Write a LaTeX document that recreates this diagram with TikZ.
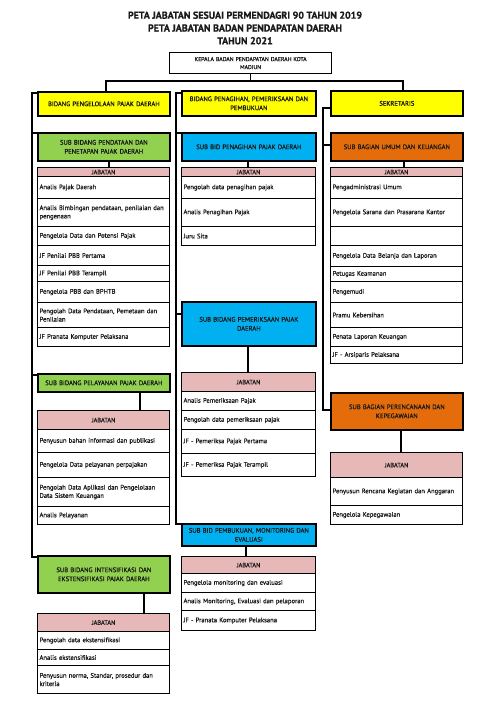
\documentclass[tikz,border=0pt]{standalone}
\usepackage{fontspec}
\setmainfont{PT Sans}[FakeBold=0.8]
\hyphenpenalty=10000
\exhyphenpenalty=10000
\definecolor{yel}{HTML}{FFFF00}
\definecolor{grn}{HTML}{92D050}
\definecolor{blu}{HTML}{00B0F0}
\definecolor{org}{HTML}{E46C0A}
\definecolor{pnk}{HTML}{E6B8B7}
\definecolor{ink}{HTML}{1A1A1A}
\tikzset{
  unitbox/.style={draw, line width=1.7pt, anchor=north west, align=center, inner sep=0pt, text=ink,
    font=\fontsize{6.6}{9}\selectfont},
  lbox/.style={unitbox, minimum width=132pt, text width=128pt},
  mbox/.style={unitbox, minimum width=134pt, text width=130pt},
  hdr/.style={draw, line width=1.1pt, fill=pnk, anchor=north west, inner sep=0pt, text=ink,
    font=\fontsize{6.3}{7}\selectfont},
  jrow/.style={draw, line width=1.1pt, fill=white, anchor=north west, align=left, inner xsep=2pt,
    inner ysep=0pt, text=ink, font=\fontsize{6.6}{8.3}\selectfont},
  lrow/.style={jrow, text width=128pt},
  mrow/.style={jrow, text width=130pt},
  bus/.style={line width=1.4pt},
}
\begin{document}
\begin{tikzpicture}[x=1pt,y=-1pt]
\fill[white] (0,0) rectangle (484,707);
\useasboundingbox (0,0) rectangle (484,707);

\node[font=\fontsize{10}{12.8}\selectfont\bfseries, align=center, text=ink] (title) at (245,28)
  {PETA JABATAN SESUAI PERMENDAGRI 90 TAHUN 2019\\PETA JABATAN BADAN PENDAPATAN DAERAH\\TAHUN 2021};

\node[unitbox, line width=1.2pt, minimum width=162pt, minimum height=21pt, text width=158pt,
  font=\fontsize{5.8}{8}\selectfont] (kep) at (169,52) {KEPALA BADAN PENDAPATAN DAERAH KOTA\\MADIUN};

% ---------- left column ----------
\node[lbox, fill=yel, minimum height=24pt] (b1) at (37,91) {BIDANG PENGELOLAAN PAJAK DAERAH};
\node[lbox, fill=grn, minimum height=28pt] (g1) at (37,132) {SUB BIDANG PENDATAAN DAN\\PENETAPAN PAJAK DAERAH};
\node[hdr, minimum width=132pt, minimum height=9pt] (h1) at (37,167) {JABATAN};
\node[lrow, minimum height=22pt] (l11) at (37,176) {Analis Pajak Daerah};
\node[lrow, minimum height=28pt] (l12) at (37,198) {Analis Bimbingan pendataan, penilaian dan pengenaan};
\node[lrow, minimum height=19pt] (l13) at (37,226) {Pengelola Data dan Potensi Pajak};
\node[lrow, minimum height=20pt] (l14) at (37,245) {JF Penilai PBB Pertama};
\node[lrow, minimum height=16pt] (l15) at (37,265) {JF Penilai PBB Terampil};
\node[lrow, minimum height=21pt] (l16) at (37,281) {Pengelola PBB dan BPHTB};
\node[lrow, minimum height=25pt] (l17) at (37,302) {Pengolah Data Pendataan, Pemetaan dan Penilaian};
\node[lrow, minimum height=19pt] (l18) at (37,327) {JF Pranata Komputer Pelaksana};

\node[lbox, fill=grn, minimum height=18pt] (g2) at (37,373) {SUB BIDANG PELAYANAN PAJAK DAERAH};
\node[hdr, minimum width=132pt, minimum height=19pt] (h2) at (37,410) {JABATAN};
\node[lrow, minimum height=23pt] (l21) at (37,429) {Penyusun bahan informasi dan publikasi};
\node[lrow, minimum height=25pt] (l22) at (37,452) {Pengelola Data pelayanan perpajakan};
\node[lrow, minimum height=29pt] (l23) at (37,477) {Pengolah Data Aplikasi dan Pengelolaan Data Sistem Keuangan};
\node[lrow, minimum height=18pt] (l24) at (37,506) {Analis Pelayanan};

\node[lbox, fill=grn, minimum height=37pt] (g3) at (37,555)
  {SUB BIDANG INTENSIFIKASI DAN\\EKSTENSIFIKASI PAJAK DAERAH};
\node[hdr, minimum width=132pt, minimum height=18pt] (h3) at (37,613) {JABATAN};
\node[lrow, minimum height=18pt] (l31) at (37,631) {Pengolah data ekstensifikasi};
\node[lrow, minimum height=16pt] (l32) at (37,649) {Analis ekstensifikasi};
\node[lrow, minimum height=28pt] (l33) at (37,665) {Penyusun norma, Standar, prosedur dan kriteria};

% ---------- middle column ----------
\node[mbox, fill=yel, minimum height=25pt] (b2) at (181,90) {BIDANG PENAGIHAN, PEMERIKSAAN DAN\\PEMBUKUAN};
\node[mbox, fill=blu, minimum height=28pt] (u1) at (181,132) {SUB BID PENAGIHAN PAJAK DAERAH};
\node[hdr, minimum width=134pt, minimum height=9pt] (h4) at (181,167) {JABATAN};
\node[mrow, minimum height=22pt] (m11) at (181,176) {Pengolah data penagihan pajak};
\node[mrow, minimum height=28pt] (m12) at (181,198) {Analis Penagihan Pajak};
\node[mrow, minimum height=19pt] (m13) at (181,226) {Juru Sita};

\node[mbox, fill=blu, minimum height=44pt] (u2) at (181,301) {SUB BIDANG PEMERIKSAAN PAJAK\\DAERAH};
\node[hdr, minimum width=134pt, minimum height=19pt] (h5) at (181,372) {JABATAN};
\node[mrow, minimum height=19pt] (m21) at (181,391) {Analis Pemeriksaan Pajak};
\node[mrow, minimum height=19pt] (m22) at (181,410) {Pengolah data pemeriksaan pajak};
\node[mrow, minimum height=24pt] (m23) at (181,429) {JF - Pemeriksa Pajak Pertama};
\node[mrow, minimum height=23pt] (m24) at (181,453) {JF - Pemeriksa Pajak Terampil};

\node[mbox, fill=blu, minimum height=22pt] (u3) at (181,523) {SUB BID PEMBUKUAN, MONITORING DAN\\EVALUASI};
\node[hdr, minimum width=134pt, minimum height=17pt] (h6) at (181,556) {JABATAN};
\node[mrow, minimum height=19pt] (m31) at (181,573) {Pengelola monitoring dan evaluasi};
\node[mrow, minimum height=18pt] (m32) at (181,592) {Analis Monitoring, Evaluasi dan pelaporan};
\node[mrow, minimum height=20pt] (m33) at (181,610) {JF - Pranata Komputer Pelaksana};

% ---------- right column ----------
\node[lbox, fill=yel, minimum height=25pt] (b3) at (330,90) {SEKRETARIS};
\node[lbox, fill=org, minimum height=28pt] (o1) at (330,132) {SUB BAGIAN UMUM DAN KEUANGAN};
\node[hdr, minimum width=132pt, minimum height=9pt] (h7) at (330,167) {JABATAN};
\node[lrow, minimum height=22pt] (r11) at (330,176) {Pengadministrasi Umum};
\node[lrow, minimum height=28pt] (r12) at (330,198) {Pengelola Sarana dan Prasarana Kantor};
\node[lrow, minimum height=19pt] (r13) at (330,226) {};
\node[lrow, minimum height=21pt] (r14) at (330,245) {Pengelola Data Belanja dan Laporan};
\node[lrow, minimum height=15pt] (r15) at (330,266) {Petugas Keamanan};
\node[lrow, minimum height=21pt] (r16) at (330,281) {Pengemudi};
\node[lrow, minimum height=25pt] (r17) at (330,302) {Pramu Kebersihan};
\node[lrow, minimum height=19pt] (r18) at (330,327) {Penata Laporan Keuangan};
\node[lrow, minimum height=17pt] (r19) at (330,346) {JF - Arsiparis Pelaksana};

\node[lbox, fill=org, minimum height=37pt] (o2) at (330,392) {SUB BAGIAN PERENCANAAN DAN\\KEPEGAWAIAN};
\node[hdr, minimum width=132pt, minimum height=25pt] (h8) at (330,452) {JABATAN};
\node[lrow, minimum height=28pt] (r21) at (330,477) {Penyusun Rencana Kegiatan dan Anggaran};
\node[lrow, minimum height=19pt] (r22) at (330,505) {Pengelola Kepegawaian};

% ---------- connectors ----------
\coordinate (busL) at (106,81);
\coordinate (busR) at (403,81);
\draw[bus] (kep.south) -- (kep.south |- busL);
\draw[bus] (b1.north -| busL) -- (busL) -- (busR) -- (b3.north -| busR);

\coordinate (vl) at (32,557);
\draw[bus] ([yshift=-2pt]b1.north west) -| (vl) -- (g3.west |- vl);
\draw[bus] (vl |- 0,133) -- (g1.west |- 0,133);
\draw[bus] (vl |- 0,375) -- (g2.west |- 0,375);

\coordinate (vm) at (176,524);
\draw[bus] ([yshift=-3pt]b2.north west) -| (vm) -- (u3.west |- vm);
\draw[bus] (vm |- 0,133) -- (u1.west |- 0,133);
\draw[bus] (vm |- 0,314) -- (u2.west |- 0,314);

\coordinate (vr) at (323,410);
\draw[bus] (b3.west |- 0,108) -| (vr) -- (o2.west |- vr);
\draw[bus] (vr |- 0,145) -- (o1.west |- 0,145);

\coordinate (c1) at (109,0); \coordinate (c2) at (140,0); \coordinate (c3) at (144,0);
\coordinate (c4) at (248,0); \coordinate (c5) at (248,0); \coordinate (c6) at (246,0);
\coordinate (c7) at (404,0); \coordinate (c8) at (401,0);
\draw[bus] (g1.south -| c1) -- (h1.north -| c1);
\draw[bus] (g2.south -| c2) -- (h2.north -| c2);
\draw[bus] (g3.south -| c3) -- (h3.north -| c3);
\draw[bus] (u1.south -| c4) -- (h4.north -| c4);
\draw[bus] (u2.south -| c5) -- (h5.north -| c5);
\draw[bus] (u3.south -| c6) -- (h6.north -| c6);
\draw[bus] (o1.south -| c7) -- (h7.north -| c7);
\draw[bus] (o2.south -| c8) -- (h8.north -| c8);
\end{tikzpicture}
\end{document}
